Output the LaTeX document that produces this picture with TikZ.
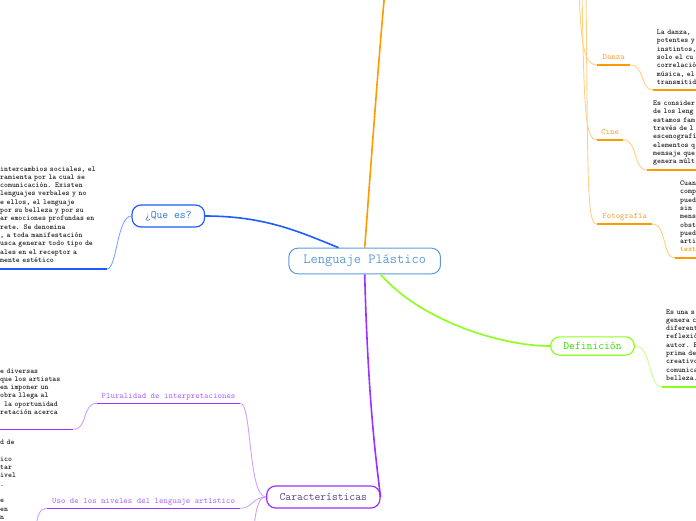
\documentclass[tikz,border=0pt]{standalone}
\usepackage{xcolor}
\usepackage{tikz}
\usetikzlibrary{positioning}
\definecolor{centerblue}{HTML}{5B9BD5}
\definecolor{queblue}{HTML}{1F5CFF}
\definecolor{queblueltl}{HTML}{7FA6FF}
\definecolor{quetext}{HTML}{2F74D0}
\definecolor{artorange}{HTML}{FF9A00}
\definecolor{artorangelt}{HTML}{FFCF85}
\definecolor{artlabel}{HTML}{F7A440}
\definecolor{deflime}{HTML}{8CFF1A}
\definecolor{deflimelt}{HTML}{C8FF8A}
\definecolor{deftext}{HTML}{33DD00}
\definecolor{carpurple}{HTML}{9B30FF}
\definecolor{carpurplelt}{HTML}{D0A0FF}
\definecolor{cartext}{HTML}{5E3A86}
\definecolor{carlabel}{HTML}{B266FF}
\definecolor{notetext}{HTML}{1A1A1A}
\tikzset{
  topic/.style={draw, rounded corners=9pt, line width=1.2pt, inner xsep=13pt,
    inner ysep=0pt, minimum height=22pt, font=\ttfamily\fontsize{11.3}{13}\selectfont},
  sublabel/.style={inner xsep=0pt, inner ysep=5pt, text depth=0pt, anchor=south west,
    font=\ttfamily\fontsize{8.4}{10}\selectfont},
  notes/.style={inner sep=0pt, text width=130pt, align=left, anchor=base west,
    text=notetext, font=\ttfamily\bfseries\fontsize{7.5}{8.3}\selectfont},
  mainline/.style={line width=1.6pt},
  twig/.style={line width=0.9pt},
  barline/.style={line width=1.6pt}
}

\begin{document}
\begin{tikzpicture}[x=1pt,y=-1pt]
  \useasboundingbox (0,0) rectangle (696,520);
  \clip (0,0) rectangle (696,520);

  % main topics
  \node[topic, draw=centerblue, text=centerblue, line width=1pt, minimum height=25.7pt,
    inner xsep=14.5pt, font=\ttfamily\fontsize{14}{16}\selectfont] (lp) at (364.7,261) {Lenguaje Plástico};
  \node[topic, draw=queblue, text=quetext] (que) at (168.3,216) {¿Que es?};
  \node[topic, draw=deflime, text=deftext, minimum height=18.3pt, inner xsep=12.8pt] (def) at (592.5,346) {Definición};
  \node[topic, draw=carpurple, text=cartext] (car) at (323.3,497) {Características};
  \coordinate (artes) at (386,-20);

  \draw[mainline, queblue] (que.east) .. controls (265,216) and (300,232) .. (lp.153);
  \draw[mainline, artorange] (lp.north) .. controls (372,150) and (380,40) .. (artes);
  \draw[mainline, deflime] (lp.-40) .. controls (420,320) and (500,346) .. (def.west);
  \draw[mainline, carpurple] (lp.south) .. controls (368,400) and (376,460) .. (car.east);

  % ¿Que es?
  \node[notes] (quenotes) at (0,171) {intercambios sociales, el\\
    ramienta por la cual se\\
    comunicación. Existen\\
    lenguajes verbales y no\\
    e ellos, el lenguaje\\
    por su belleza y por su\\
    ar emociones profundas en\\
    rete. Se denomina\\
    , a toda manifestación\\
    usca generar todo tipo de\\
    ales en el receptor a\\
    mente estético};
  \coordinate (quebar) at (107,269);
  \coordinate (quebarend) at (-5,269);
  \draw[barline, queblue] (quebar) -- (quebarend);
  \draw[twig, queblueltl] (quebar) .. controls (117,269) and (117,216) .. (que.west);

  % Danza, Cine, Fotografia
  \coordinate (dztop) at (579,-10);
  \coordinate (citop) at (582,-10);
  \coordinate (fotop) at (586,-10);
  \node[sublabel, text=artlabel, minimum width=33pt] (dzlab) at (597,65) {Danza};
  \node[sublabel, text=artlabel, minimum width=26pt] (cilab) at (597,140) {Cine};
  \node[sublabel, text=artlabel, minimum width=55pt] (folab) at (597,224) {Fotografía};
  \draw[twig, artorangelt] (dztop) .. controls (581,45) and (584,65) .. (dzlab.south west);
  \draw[twig, artorangelt] (citop) .. controls (584,110) and (585,140) .. (cilab.south west);
  \draw[twig, artorangelt] (fotop) .. controls (588,190) and (587,224) .. (folab.south west);
  \draw[barline, artorange] (dzlab.south west) -- (dzlab.south east);
  \draw[barline, artorange] (cilab.south west) -- (cilab.south east);
  \draw[barline, artorange] (folab.south west) -- (folab.south east);

  \node[notes] (dznotes) at (656.7,34.5) {La danza,\\ potentes y\\ instintos,\\ solo el cu\\
    correlació\\ música, el\\ transmitid};
  \coordinate (dzbar) at (653,90);
  \coordinate (dzbarend) at (700,90);
  \draw[twig, artorangelt] (dzlab.south east) .. controls (645,65) and (640,90) .. (dzbar);
  \draw[barline, artorange] (dzbar) -- (dzbarend);

  \node[notes] (cinotes) at (653,105.5) {Es consider\\ de los leng\\ estamos fam\\ través de l\\
    escenografí\\ elementos q\\ mensaje que\\ genera múlt};
  \coordinate (cibar) at (647,170);
  \coordinate (cibarend) at (700,170);
  \draw[twig, artorangelt] (cilab.south east) .. controls (638,140) and (633,170) .. (cibar);
  \draw[barline, artorange] (cibar) -- (cibarend);

  \node[notes] (fonotes) at (680,185.5) {Cuan\\ comp\\ pued\\ sin\\ mens\\ obst\\ pued\\ arti\\
    \textcolor{artorange}{text}};
  \coordinate (fobar) at (675,258);
  \coordinate (fobarend) at (700,258);
  \draw[twig, artorangelt] (folab.south east) .. controls (667,224) and (662,258) .. (fobar);
  \draw[barline, artorange] (fobar) -- (fobarend);

  % Definicion
  \node[notes] (defnotes) at (666,314) {Es una s\\ genera c\\ diferent\\ reflexió\\ autor. E\\
    prima de\\ creativo\\ comunica\\ belleza.};
  \coordinate (defbar) at (662,387);
  \coordinate (defbarend) at (700,387);
  \draw[twig, deflimelt] (def.east) .. controls (652,346) and (648,387) .. (defbar);
  \draw[barline, deflime] (defbar) -- (defbarend);

  % Caracteristicas
  \node[sublabel, text=carlabel, minimum width=143.3pt] (plurlab) at (96.7,403.3) {Pluralidad de interpretaciones};
  \node[sublabel, text=carlabel, minimum width=193.3pt] (usolab) at (46.7,508.3) {Uso de los niveles del lenguaje artístico};
  \coordinate (cardown) at (253,540);
  \draw[twig, carpurplelt] (plurlab.south east) .. controls (252,403.3) and (248,497) .. (car.west);
  \draw[twig, carpurplelt] (usolab.south east) .. controls (252,508.3) and (253,497) .. (car.west);
  \draw[twig, carpurplelt] (car.west) .. controls (258,497) and (255,510) .. (cardown);
  \draw[barline, carpurple] (plurlab.south west) -- (plurlab.south east);
  \draw[barline, carpurple] (usolab.south west) -- (usolab.south east);

  \node[notes] (plurnotes) at (0,373) {e diversas\\ que los artistas\\ en imponer un\\
    obra llega al\\ \hphantom{x}la oportunidad\\ retación acerca};
  \coordinate (plurbar) at (73.3,429.3);
  \coordinate (plurbarend) at (-5,429.3);
  \draw[twig, carpurplelt] (plurlab.south west) .. controls (82,403.3) and (88,429.3) .. (plurbar);
  \draw[barline, carpurple] (plurbar) -- (plurbarend);

  \node[notes] (usonotes) at (0,444.6) {d de\\ \mbox{}\\ ico\\ tar\\ ivel\\ .\\ \mbox{}\\ e\\ en\\ n};
  \coordinate (usodown) at (35,535);
  \draw[twig, carpurplelt] (usolab.south west) .. controls (40,508.3) and (37,514) .. (usodown);
\end{tikzpicture}
\end{document}
